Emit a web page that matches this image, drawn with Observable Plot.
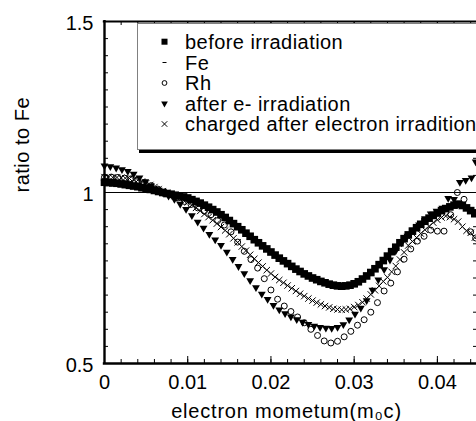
<!DOCTYPE html>
<html><head><meta charset="utf-8">
<script src="https://cdn.jsdelivr.net/npm/d3@7"></script>
<script src="https://cdn.jsdelivr.net/npm/@observablehq/plot@0.6"></script>
<style>
html,body{margin:0;padding:0;background:#fff;overflow:hidden}
#wrap{position:relative;width:476px;height:421px;overflow:hidden;font-family:"Liberation Sans",Arial,sans-serif}
#legend{position:absolute;left:137px;top:23px;width:400px;height:125px;border:1px solid #808080;background:#fff;box-shadow:2px 3px 0 #000}
#legend svg{position:absolute;left:0;top:0}
</style></head><body><div id="wrap"><div id="chart"></div><div id="legend"></div></div>
<script>
// ---- data ----
const seriesNames = ["before irradiation", "Fe", "Rh", "after e- irradiation", "charged after electron irradition"];

const momentum = [0,0.0005,0.001,0.0015,0.002,0.0025,0.003,0.0035,0.004,0.0045,0.005,0.0055,0.006,0.0065,0.007,0.0075,0.008,0.0085,0.009,0.0095,0.01,0.0105,0.011,0.0115,0.012,0.0125,0.013,0.0135,0.014,0.0145,0.015,0.0155,0.016,0.0165,0.017,0.0175,0.018,0.0185,0.019,0.0195,0.02,0.0205,0.021,0.0215,0.022,0.0225,0.023,0.0235,0.024,0.0245,0.025,0.0255,0.026,0.0265,0.027,0.0275,0.028,0.0285,0.029,0.0295,0.03,0.0305,0.031,0.0315,0.032,0.0325,0.033,0.0335,0.034,0.0345,0.035,0.0355,0.036,0.0365,0.037,0.0375,0.038,0.0385,0.039,0.0395,0.04,0.0405,0.041,0.0415,0.042,0.0425,0.043,0.0435,0.044,0.0445];

const beforeIrradiation = [1.030,1.029,1.028,1.027,1.025,1.023,1.021,1.019,1.017,1.014,1.012,1.009,1.006,1.003,1.000,0.997,0.995,0.992,0.990,0.987,0.984,0.979,0.974,0.969,0.963,0.957,0.950,0.943,0.935,0.927,0.918,0.909,0.900,0.891,0.881,0.872,0.862,0.853,0.844,0.835,0.826,0.817,0.808,0.800,0.792,0.784,0.776,0.769,0.762,0.756,0.750,0.745,0.740,0.736,0.732,0.729,0.727,0.726,0.727,0.729,0.733,0.739,0.747,0.756,0.766,0.777,0.789,0.801,0.814,0.827,0.840,0.853,0.865,0.876,0.887,0.897,0.907,0.916,0.925,0.933,0.940,0.947,0.953,0.958,0.963,0.966,0.962,0.955,0.947,0.938];

const chargedAfter = [1.045,1.045,1.044,1.044,1.043,1.042,1.041,1.039,1.036,1.032,1.027,1.022,1.016,1.010,1.004,0.999,0.994,0.989,0.983,0.977,0.971,0.963,0.955,0.946,0.937,0.928,0.919,0.909,0.899,0.889,0.878,0.866,0.854,0.842,0.830,0.818,0.806,0.795,0.784,0.773,0.763,0.753,0.744,0.736,0.728,0.720,0.712,0.704,0.697,0.690,0.684,0.678,0.673,0.668,0.664,0.660,0.658,0.657,0.658,0.660,0.665,0.671,0.679,0.690,0.702,0.714,0.727,0.740,0.752,0.768,0.785,0.804,0.825,0.845,0.857,0.868,0.880,0.891,0.901,0.912,0.920,0.927,0.931,0.928,0.922,0.915,0.900,0.888,0.882,0.868];

const afterMomentum = [0,0.0007,0.0014,0.0021,0.0028,0.0035,0.0042,0.0049,0.0056,0.0063,0.007,0.0077,0.0084,0.0091,0.0098,0.0105,0.0112,0.0119,0.0126,0.0133,0.014,0.0147,0.0154,0.0161,0.0168,0.0175,0.0182,0.0189,0.0196,0.0203,0.021,0.0217,0.0224,0.0231,0.0238,0.0245,0.0252,0.0259,0.0266,0.0273,0.028,0.0287,0.0294,0.0301,0.0308,0.0315,0.0322,0.0329,0.0336,0.0343,0.035,0.0357,0.0364,0.0371,0.0378,0.0385,0.0392,0.0399,0.0406,0.0413,0.042,0.0427,0.0434,0.0441,0.0446];
const afterIrradiation = [1.078,1.076,1.072,1.067,1.062,1.054,1.043,1.032,1.020,1.009,1.000,0.990,0.980,0.966,0.951,0.933,0.914,0.896,0.878,0.862,0.846,0.826,0.805,0.784,0.763,0.743,0.722,0.703,0.688,0.670,0.657,0.646,0.637,0.629,0.621,0.615,0.610,0.606,0.604,0.603,0.606,0.614,0.628,0.645,0.662,0.684,0.715,0.745,0.775,0.803,0.830,0.853,0.873,0.890,0.906,0.924,0.938,0.946,0.955,0.983,0.980,1.030,1.036,1.043,1.090];

const rhMomentum = [0,0.0008,0.0016,0.0024,0.0032,0.004,0.0048,0.0056,0.0064,0.0072,0.008,0.0088,0.0096,0.0104,0.0112,0.012,0.0128,0.0136,0.0144,0.0152,0.016,0.0168,0.0176,0.0184,0.0192,0.02,0.0208,0.0216,0.0224,0.0232,0.024,0.0248,0.0256,0.0264,0.0272,0.028,0.0288,0.0296,0.0304,0.0312,0.032,0.0328,0.0336,0.0344,0.0352,0.036,0.0368,0.0376,0.0384,0.0392,0.04,0.0408,0.0416,0.0424,0.0432,0.044,0.0446];
const rhRatio = [1.045,1.045,1.044,1.042,1.040,1.036,1.029,1.020,1.010,1.001,0.993,0.984,0.974,0.965,0.955,0.946,0.935,0.918,0.905,0.885,0.855,0.828,0.804,0.779,0.748,0.715,0.688,0.668,0.652,0.636,0.619,0.600,0.582,0.566,0.560,0.565,0.578,0.594,0.612,0.628,0.650,0.678,0.712,0.735,0.768,0.805,0.835,0.858,0.872,0.890,0.887,0.887,0.935,1.000,0.980,0.885,0.867];

const feRatio = [1];

const xTickValues = [0, 0.01, 0.02, 0.03, 0.04];
const xTickLabels = ["0", "0.01", "0.02", "0.03", "0.04"];
const yTickValues = [0.5, 1, 1.5];
const yTickLabels = ["0.5", "1", "1.5"];
const xTitle = "electron mometum(m\u2080c)";
const yTitle = "ratio to Fe";

// ---- chart ----
const triangleDown = {
  draw(ctx, size) {
    const s3 = Math.sqrt(3);
    const y = -Math.sqrt(size / (s3 * 3));
    ctx.moveTo(0, -y * 2);
    ctx.lineTo(-s3 * y, y);
    ctx.lineTo(s3 * y, y);
    ctx.closePath();
  }
};

const toRows = (xs, ys) => xs.map((x, i) => ({x, y: ys[i]}));
const beforeRows = toRows(momentum, beforeIrradiation);
const chargedRows = toRows(momentum, chargedAfter);
const afterRows = toRows(afterMomentum, afterIrradiation);
const rhRows = toRows(rhMomentum, rhRatio);

const xMax = 0.0447;
const xMinor = d3.range(1, 23).map(i => +(i * 0.002).toFixed(4)).filter(v => v <= xMax);
const yMinor = d3.range(11, 30).map(i => +(i * 0.05).toFixed(2));
const plotH = 421 - 21 - 58;
const plotW = 476 - 104;
const font = '"Liberation Sans", Arial, sans-serif';

const chart = Plot.plot({
  width: 476,
  height: 421,
  marginLeft: 104,
  marginRight: 0,
  marginTop: 21,
  marginBottom: 58,
  style: {fontFamily: font, fontSize: "20px", background: "white", color: "black"},
  x: {domain: [0, xMax], axis: null},
  y: {domain: [0.5, 1.5], axis: null},
  marks: [
    // Fe reference line
    Plot.ruleY(feRatio, {stroke: "black", strokeWidth: 1}),
    // ticks
    Plot.tickX(xMinor, {x: d => d, stroke: "black", strokeWidth: 1, insetTop: plotH - 4}),
    Plot.tickX(xTickValues, {x: d => d, stroke: "black", strokeWidth: 1, insetTop: plotH - 7}),
    Plot.tickX(xMinor, {x: d => d, stroke: "black", strokeWidth: 1, insetBottom: plotH - 4}),
    Plot.tickX(xTickValues, {x: d => d, stroke: "black", strokeWidth: 1, insetBottom: plotH - 7}),
    Plot.tickY(yMinor, {y: d => d, stroke: "black", strokeWidth: 1, insetRight: plotW - 4}),
    Plot.tickY(yMinor, {y: d => d, stroke: "black", strokeWidth: 1, insetLeft: plotW - 3}),
    // series
    Plot.dot(beforeRows, {x: "x", y: "y", symbol: "square", r: 4.3, fill: "black", stroke: "none"}),
    Plot.dot(rhRows, {x: "x", y: "y", symbol: "circle", r: 3, fill: "none", stroke: "black", strokeWidth: 1}),
    Plot.dot(afterRows, {x: "x", y: "y", symbol: triangleDown, r: 2.9, fill: "black", stroke: "none"}),
    Plot.dot(chargedRows, {x: "x", y: "y", symbol: "times", r: 3, fill: "none", stroke: "black", strokeWidth: 1}),
    // frame
    Plot.ruleX([0], {stroke: "black", strokeWidth: 2.4, insetTop: -1, insetBottom: -1}),
    Plot.ruleY([0.5], {stroke: "black", strokeWidth: 2.4, insetLeft: -1.2}),
    Plot.ruleY([1.5], {stroke: "black", strokeWidth: 2.2, insetLeft: -1.2}),
    // tick labels
    Plot.text(xTickValues, {x: d => d, text: (d, i) => xTickLabels[i], frameAnchor: "bottom", dy: 25, fontSize: 20, fill: "black"}),
    Plot.text(yTickValues, {y: d => d, text: (d, i) => yTickLabels[i], frameAnchor: "left", dx: -11, dy: 2, textAnchor: "end", fontSize: 20, fill: "black"}),
    // titles
    Plot.text([xTitle], {frameAnchor: "bottom", dx: -4, dy: 54, fontSize: 20, fill: "black"}),
    Plot.text([yTitle], {frameAnchor: "left", dx: -82, rotate: -90, fontSize: 20, fill: "black"})
  ]
});
document.getElementById("chart").appendChild(chart);
// slightly wider letter spacing on the two axis titles, as in the reference
const textGroups = d3.select(chart).selectAll('g[aria-label="text"]').nodes();
d3.select(textGroups[textGroups.length - 2]).style("letter-spacing", "0.8px");
d3.select(textGroups[textGroups.length - 1]).style("letter-spacing", "0.5px");

// ---- legend (inside the plot, top right) ----
const leg = d3.select("#legend").append("svg").attr("width", 400).attr("height", 125);
const rowY = [17.7, 38.5, 59, 79.5, 100];
const mx = 26.5;
const sym = (type, r) => d3.symbol(type, Math.PI * r * r)();
seriesNames.forEach((name, i) => {
  const g = leg.append("g").attr("transform", `translate(${mx},${rowY[i]})`);
  if (i === 0) g.append("path").attr("d", sym(d3.symbolSquare, 3.4)).attr("fill", "black");
  if (i === 1) g.append("line").attr("x1", -2).attr("x2", 2).attr("stroke", "black");
  if (i === 2) g.append("circle").attr("r", 2.4).attr("fill", "none").attr("stroke", "black");
  if (i === 3) g.append("path").attr("d", sym(triangleDown, 2.5)).attr("fill", "black");
  if (i === 4) g.append("path").attr("d", sym(d3.symbolTimes, 2.6)).attr("fill", "none").attr("stroke", "black");
  leg.append("text").attr("x", 47).attr("y", rowY[i] + 7)
    .attr("font-family", font).attr("font-size", 20).attr("letter-spacing", 0.45)
    .attr("fill", "black").text(name);
});
</script></body></html>
